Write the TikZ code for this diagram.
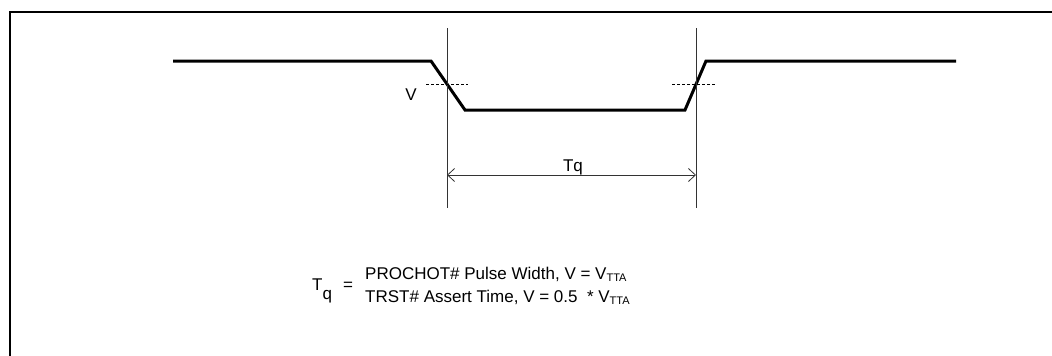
\documentclass[tikz,border=0pt]{standalone}
\usepackage{fontspec}
\setmainfont{Liberation Sans}
\usetikzlibrary{arrows.meta}
\begin{document}
\begin{tikzpicture}[x=1pt,y=-1pt,
  wave/.style={line width=3pt,line join=miter},
  thin/.style={line width=0.8pt,black!80},
  dashline/.style={line width=0.9pt,dash pattern=on 3pt off 2pt},
  frameline/.style={line width=2pt},
  lbl/.style={inner sep=0pt,font=\fontsize{17}{20}\selectfont},
  dim/.style={line width=0.8pt,black!80,{Straight Barb[length=7pt,width=13pt]}-{Straight Barb[length=7pt,width=13pt]}}]
\useasboundingbox (0,0) rectangle (1052,356);
% frame (top and left edges)
\draw[frameline] (10,357) -- (10,12) -- (1053,12);
% waveform
\coordinate (w0) at (173,61);
\coordinate (w1) at (431,61);
\coordinate (w2) at (465,110);
\coordinate (w3) at (685,110);
\coordinate (w4) at (706,61);
\coordinate (w5) at (956,61);
\draw[wave] (w0) -- (w1) -- (w2) -- (w3) -- (w4) -- (w5);
% vertical reference lines
\coordinate (l1t) at (447,28);
\coordinate (l1b) at (447,208);
\coordinate (l2t) at (696,28);
\coordinate (l2b) at (696,208);
\draw[thin] (l1t) -- (l1b);
\draw[thin] (l2t) -- (l2b);
% dashed threshold marks
\coordinate (d1a) at (426,84);
\coordinate (d1b) at (468,84);
\coordinate (d2a) at (672,84);
\coordinate (d2b) at (715,84);
\draw[dashline] (d1a) -- (d1b);
\draw[dashline] (d2a) -- (d2b);
\node[lbl] (V) at (411,95) {V};
% dimension arrow
\coordinate (a1) at (447,175);
\coordinate (a2) at (696,175);
\draw[dim] (a1) -- (a2);
\node[lbl,anchor=base] (tq) at (573,171) {Tq};
% legend
\node[lbl,anchor=base west] (Tq) at (312,290) {T\raisebox{-9pt}{q}};
\node[lbl,anchor=base west] (eq) at (343,290) {=};
\node[lbl,anchor=base west] (line1) at (365,279) {PROCHOT\# Pulse Width, V = V{\fontsize{11}{12}\selectfont\raisebox{-2.5pt}{TTA}}};
\node[lbl,anchor=base west] (line2) at (365,302) {TRST\# Assert Time, V = 0.5\ \ * V{\fontsize{11}{12}\selectfont\raisebox{-2.5pt}{TTA}}};
\end{tikzpicture}
\end{document}
